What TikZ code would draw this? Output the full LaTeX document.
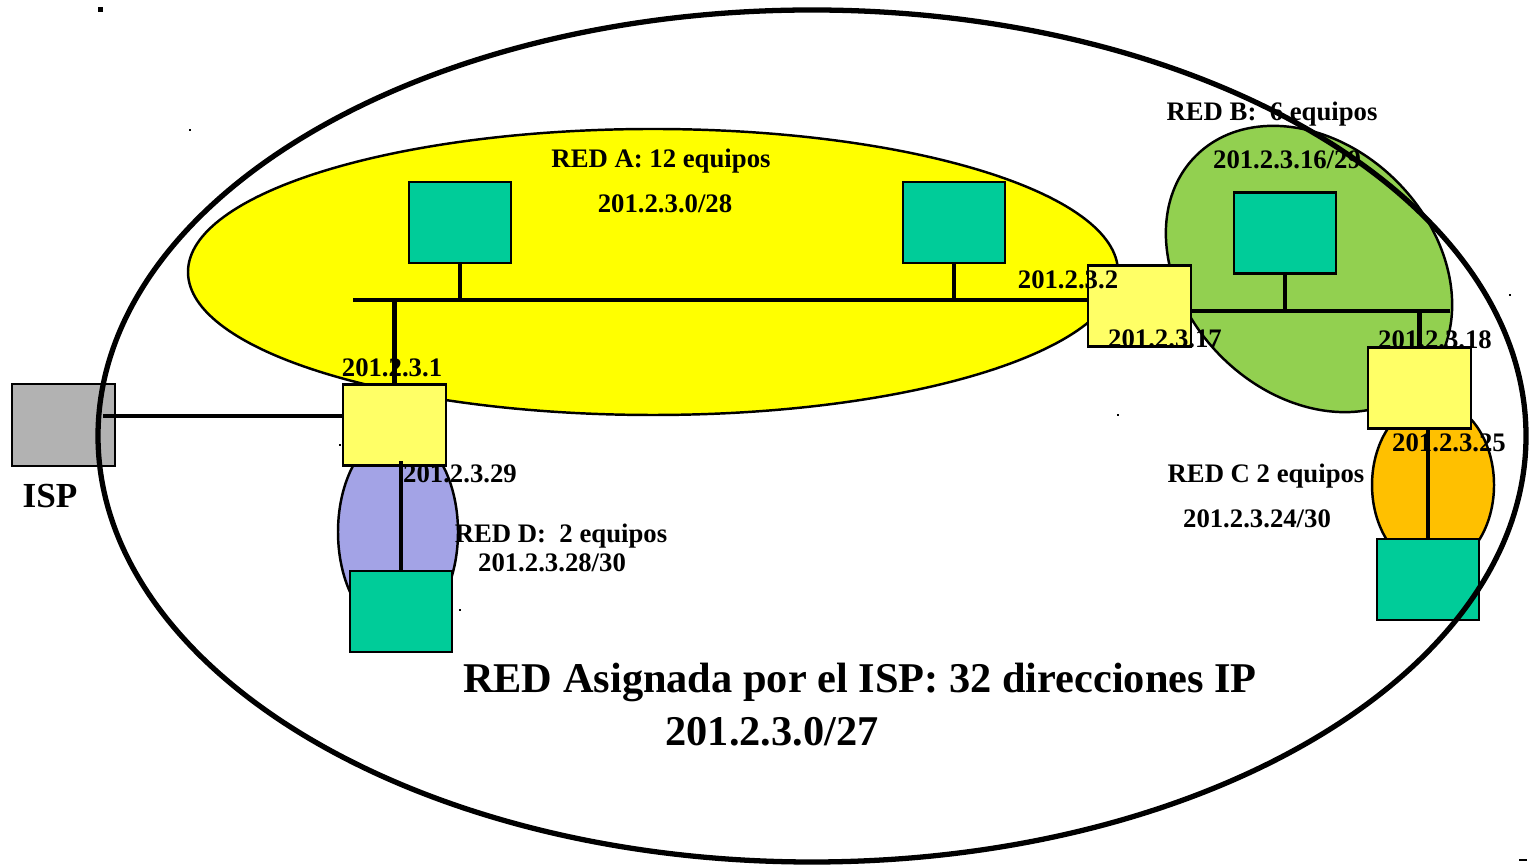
\documentclass[tikz,border=0pt]{standalone}
\usepackage{fontspec}
\setmainfont{Liberation Serif}
\usepackage{xcolor}
\usetikzlibrary{positioning, calc}

\definecolor{redAfill}{HTML}{FFFF00}
\definecolor{redBfill}{HTML}{92D050}
\definecolor{redCfill}{HTML}{FFC000}
\definecolor{redDfill}{HTML}{A3A3E6}
\definecolor{routerfill}{HTML}{FFFF66}
\definecolor{hostfill}{HTML}{00CC99}
\definecolor{ispfill}{HTML}{B2B2B2}

\begin{document}
\begin{tikzpicture}[
    x=0.01cm, y=-0.01cm,
    host/.style={rectangle, draw=black, fill=hostfill, line width=0.7pt, minimum width=1.02cm, minimum height=0.81cm, inner sep=0pt},
    router/.style={rectangle, draw=black, fill=routerfill, line width=0.7pt, minimum width=1.03cm, minimum height=0.81cm, inner sep=0pt},
    isp/.style={rectangle, draw=black, fill=ispfill, line width=0.7pt, minimum width=1.03cm, minimum height=0.82cm, inner sep=0pt},
    subnet/.style={draw=black, line width=0.7pt},
    bus/.style={line width=1.3pt},
    lbl/.style={font=\fontsize{7.6}{9}\selectfont\bfseries, inner sep=0pt},
    biglbl/.style={font=\fontsize{12.05}{14}\selectfont\bfseries, inner sep=0pt},
]
\useasboundingbox (0,0) rectangle (1531,865);

% Subnets
\fill[redAfill, subnet] (653,272) ellipse [x radius=465, y radius=143];
\fill[redBfill, subnet, rotate around={-45:(1309,269)}] (1309,269) ellipse [x radius=160, y radius=124];
\fill[redCfill, subnet] (1433,485) ellipse [x radius=61, y radius=84];
\fill[redDfill, subnet] (398,532) ellipse [x radius=60, y radius=100];

% Nodes
\node[host] (hA1) at (460,222.5) {};
\node[host] (hA2) at (954,222.5) {};
\node[host] (hB) at (1285,233) {};
\node[host] (hC) at (1428,579.5) {};
\node[host] (hD) at (401,611.5) {};
\node[router] (r1) at (394.5,425) {};
\node[router] (r2) at (1139.5,306) {};
\node[router] (r3) at (1419.5,388) {};
\node[isp] (isp) at (63.5,425) {};

% Labels
\node[lbl] (lblA) at (661,161) {RED A: 12 equipos};
\node[lbl] (netA) at (665,204) {201.2.3.0/28};
\node[lbl] (lblB) at (1272,114) {RED B:\ \ 6 equipos};
\node[lbl] (netB) at (1287,160) {201.2.3.16/29};
\node[lbl] (lblC) at (1266,476) {RED C 2 equipos};
\node[lbl] (netC) at (1257,519) {201.2.3.24/30};
\node[lbl] (lblD) at (561,536) {RED D:\ \ 2 equipos};
\node[lbl] (netD) at (552,563) {201.2.3.28/30};
\node[lbl] (ip1) at (392,368) {201.2.3.1};
\node[lbl] (ip2) at (1068,280) {201.2.3.2};
\node[lbl] (ip17) at (1165,339) {201.2.3.17};
\node[lbl] (ip18) at (1435,340) {201.2.3.18};
\node[lbl] (ip25) at (1449,443) {201.2.3.25};
\node[lbl] (ip29) at (460,474) {201.2.3.29};
\node[biglbl, font=\fontsize{10}{12}\selectfont\bfseries] (lblisp) at (50,496) {ISP};
\node[biglbl] (lblall) at (860,682) {RED Asignada por el ISP: 32 direcciones IP};
\node[biglbl] (netall) at (772,732) {201.2.3.0/27};

% Links
\coordinate (busA) at (353,300);
\coordinate (busB) at (1450,311);
\draw[bus] (busA) -- (busA -| r2.west);
\draw[bus] (hA1.south) -- (hA1.south |- busA);
\draw[bus] (hA2.south) -- (hA2.south |- busA);
\draw[bus] (r1.north) -- (r1.north |- busA);
\draw[bus] (r2.east |- busB) -- (busB);
\draw[bus] (hB.south) -- ([yshift=-0.02cm]hB.south |- busB);
\draw[bus] (r3.north) -- (r3.north |- busB);
\draw[bus] (hC.north) -- (hC.north |- r3.south);
\draw[bus] (hD.north) -- ([yshift=0.06cm]hD.north |- r1.south);
\draw[bus] ([xshift=-0.13cm,yshift=0.09cm]isp.east) -- ([yshift=0.09cm]r1.west);

% Assigned network
\draw[line width=1.5pt] (812,436) ellipse [x radius=714, y radius=426];

% Stray marks
\fill (97.5,7.5) rectangle (102.5,12.5);
\fill (189,129) rectangle (191,131);
\fill (339,444) rectangle (341,446);
\fill (459,609) rectangle (461,611);
\fill (1117,414) rectangle (1119,416);
\fill (1509,294) rectangle (1511,296);
\fill (1519,859) rectangle (1527,861);
\end{tikzpicture}
\end{document}
